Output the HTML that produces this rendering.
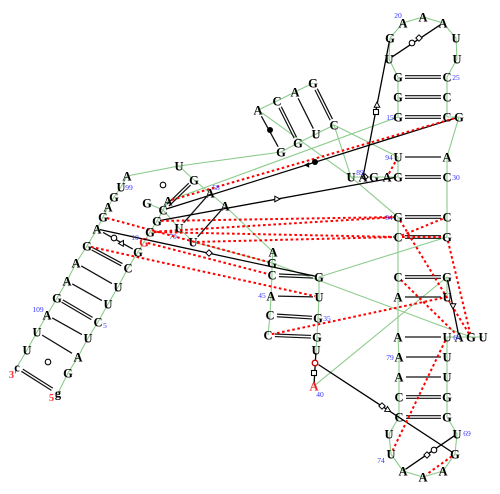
<!DOCTYPE html>
<html>
<head>
<meta charset="utf-8">
<title>RNA secondary structure</title>
<style>
html,body{margin:0;padding:0;background:#fff;width:500px;height:494px;overflow:hidden}
svg{display:block;filter:blur(0.35px)}
text{font-family:"Liberation Serif",serif}
</style>
</head>
<body>
<svg id="chart" xmlns="http://www.w3.org/2000/svg" width="500" height="494" viewBox="0 0 500 494">
<g id="backbone"></g>
<g id="pairs"></g>
<g id="tertiary"></g>
<g id="dashes"></g>
<g id="symbols"></g>
<g id="letters"></g>
<g id="labels"></g>
</svg>
<script>
const residues = [
["a1","g",58,393],["a2","G",68,373],["a3","A",78,357],["a4","U",88,338],["a5","C",98,322],["a6","U",108,304],["a7","U",118,287],["a8","C",128,268],
["a9","G",138,252],["a10","G",144,242],["a11","G",150,232],["a12","G",157,221],["a13","C",163,210],["a14","A",168,201],["a15","G",147,203],
["b1","U",179,228],["b2","U",193,242],
["c1","c",17,367],["c2","U",27,350],["c3","U",37,332],["c4","A",47,315],["c5","G",57,298],["c6","A",67,281],["c7","A",76,263],["c8","G",87,246],
["c9","A",97,229],["c10","G",103,217],["c11","A",108,207],["c12","G",114,197],["c13","U",121,187],["c14","A",127,176],["c15","U",179,166],
["d1","G",194,180],["d2","A",210,193],["d3","A",225,206],
["e1","A",258,110],["e2","C",277,101],["e3","A",295,92],["e4","G",313,83],["e5","G",281,152],["e6","G",298,143],["e7","U",316,134],["e8","C",334,125],
["f1","G",398,117],["f2","G",398,97],["f3","G",398,77],["f4","U",389,59],["f5","G",390,38],["f6","A",403,23],["f7","A",423,17],["f8","A",443,23],["f9","U",456,38],["f10","U",457,59],
["f11","C",447,77],["f12","C",447,97],["f13","C",447,117],["f14","G",459,117],["f15","A",447,157],["f16","C",447,177],["f17","C",447,217],["f18","G",447,237],
["g1","U",398,157],["g2","G",398,177],["g3","A",387,177],["g4","G",374,177],["g5","A",363,177],["g6","U",351,177],
["h1","G",398,217],["h2","C",398,237],["h3","C",398,277],["h4","A",398,297],["h5","A",398,337],["h6","A",399,357],["h7","A",399,377],["h8","C",399,397],["h9","C",399,417],
["h10","U",389,434],["h11","U",391,454],["h12","A",403,471],["h13","A",423,477],["h14","A",443,471],["h15","G",455,454],["h16","U",457,434],
["i1","G",447,417],["i2","G",447,397],["i3","U",447,377],["i4","U",447,357],["i5","U",447,337],["i6","A",459,337],["i7","G",471,337],["i8","U",483,337],
["i9","G",447,277],["i10","U",447,297],
["j1","A",273,252],["j2","G",272,263],["j3","C",272,275],["j4","A",271,296],["j5","C",270,315],["j6","C",268,335],
["k1","G",319,277],["k2","U",319,297],["k3","G",318,318],["k4","G",317,337],["k5","U",316,350],["k6","A",314,386]
];
const redResidues = ["k6","a10"];
const backbonePaths = [
["a1","a2","a3","a4","a5","a6","a7","a8","a9","a10","a11","a12","a13","a14","f1","f2","f3","f4","f5","f6","f7","f8","f9","f10","f11","f12","f13","f14","f15","f16","f17","f18","k1","k2","k3","k4","k5","k6","i9","i10"],
["c1","c2","c3","c4","c5","c6","c7","c8","c9","c10","c11","c12","c13","c14","c15","d1","d2","d3","j1","j2","j3","j4","j5","j6"],
["c15","e5","e6","e7","e8","g1","g2","g3","g4","g5","g6","h1","h2","h3","h4","h5","h6","h7","h8","h9","h10","h11","h12","h13","h14","h15","h16","i1","i2","i3","i4","i5","i6","i7","i8"],
["a15","a13","b1","b2","j2","i7"],
["e1","e2","e3","e4"],
["e1","g6","e8"]
];
const doublePairs = [["a1","c1"],["a5","c5"],["a8","c8"],["a13","d1"],["e2","e6"],["e4","e8"],["f3","f11"],["f2","f12"],["f1","f13"],["g2","f16"],["h1","f17"],["h2","f18"],["h3","i9"],["h8","i2"],["h9","i1"],["j3","k1"],["j5","k3"],["j6","k4"]];
const singlePairs = [["a3","c3"],["a4","c4"],["a6","c6"],["a7","c7"],["b1","d2"],["b2","d3"],["e1","e5"],["e3","e7"],["g1","f15"],["h4","i10"],["h5","i5"],["h6","i4"],["h7","i3"],["j4","k2"],["c9","a9"]];
const tertiaryLines = [["c9","k1"],["a13","f14"],["a12","g2"],["f5","g5"],["f4","f8"],["h16","h12"],["i9","i6"],["k5","k6"]];
const freeLineStart = ["mark1","h15"];
const dashedLines = [["c10","j2"],["c8","k2"],["a10","j3"],["a12","h1"],["a11","h1"],["a11","h2"],["b2","h2"],["a14","f14"],["g3","g1"],["h2","f17"],["h2","f18"],["h1","i7"],["f18","i7"],["h3","i6"],["j6","i10"],["i5","h11"],["h15","h13"]];
const openCircles = [[48,362],[163,185],[114,238],[412,43],[434,450]];
const filledCircles = [[270,130],[315,162]];
const redCircles = [[315,363]];
const openTriangles = [[122,243,30],[277,199,90],[377,105,0],[453,306,180],[388,410,120]];
const filledTriangles = [[307,165,-90]];
const openSquares = [[376,112],[314,373]];
const openDiamonds = [[419,38],[209,253],[365,177],[382,406],[427,455]];
const blueLabels = [["99",129,190],["109",38,312],["5",105,328],["20",398,18],["25",456,80],["15",390,120],["94",389,160],["30",456,180],["89",360,175],["84",389,220],["64",457,340],["79",390,360],["74",381,463],["69",467,436],["45",262,298],["35",327,321],["40",320,397],["10",135,240],["70",173,239],["58",216,190]];
const redLabels = [["3'",13,378],["5'",53,401]];

const NS = "http://www.w3.org/2000/svg";
const pos = {};
residues.forEach(r => { pos[r[0]] = [r[2], r[3]]; });
pos.mark1 = [316, 363];
function make(tag, parentId, name, attrs) {
  const el = document.createElementNS(NS, tag);
  
  
  Object.keys(attrs).forEach(k => el.setAttribute(k, attrs[k]));
  document.getElementById(parentId).appendChild(el);
  return el;
}
function trimmed(a, b, ta, tb) {
  const dx = b[0] - a[0], dy = b[1] - a[1], len = Math.hypot(dx, dy) || 1;
  const ux = dx / len, uy = dy / len;
  return [a[0] + ux * ta, a[1] + uy * ta, b[0] - ux * tb, b[1] - uy * tb, -uy, ux];
}
backbonePaths.forEach(path => {
  make('polyline', 'backbone', 'backbone-strand', {
    points: path.map(id => pos[id].join(',')).join(' '),
    fill: 'none', stroke: '#8ccb8c', 'stroke-width': 1.1
  });
});
doublePairs.forEach(p => {
  const t = trimmed(pos[p[0]], pos[p[1]], 7, 6);
  [-1.3, 1.3].forEach(o => {
    make('line', 'pairs', 'double-pair-line', {
      x1: t[0] + t[4] * o, y1: t[1] + t[5] * o, x2: t[2] + t[4] * o, y2: t[3] + t[5] * o,
      stroke: '#111', 'stroke-width': 1.2
    });
  });
});
singlePairs.forEach(p => {
  const t = trimmed(pos[p[0]], pos[p[1]], 7, 6);
  make('line', 'pairs', 'single-pair-line', { x1: t[0], y1: t[1], x2: t[2], y2: t[3], stroke: '#111', 'stroke-width': 1.3 });
});
tertiaryLines.concat([freeLineStart]).forEach(p => {
  const t = trimmed(pos[p[0]], pos[p[1]], 3, 3);
  make('line', 'tertiary', 'tertiary-line', { x1: t[0], y1: t[1], x2: t[2], y2: t[3], stroke: '#000', 'stroke-width': 1.3 });
});
dashedLines.forEach(p => {
  const t = trimmed(pos[p[0]], pos[p[1]], 4, 4);
  make('line', 'dashes', 'dashed-interaction', {
    x1: t[0], y1: t[1], x2: t[2], y2: t[3],
    stroke: '#f00', 'stroke-width': 2, 'stroke-dasharray': '2.6 2.6'
  });
});
openCircles.forEach(c => {
  make('circle', 'symbols', 'open-circle-symbol', { cx: c[0], cy: c[1], r: 2.8, fill: '#fff', stroke: '#000', 'stroke-width': 1.1 });
});
filledCircles.forEach(c => {
  make('circle', 'symbols', 'filled-circle-symbol', { cx: c[0], cy: c[1], r: 3, fill: '#000' });
});
redCircles.forEach(c => {
  make('circle', 'symbols', 'red-circle-symbol', { cx: c[0], cy: c[1], r: 2.8, fill: '#fff', stroke: '#c00', 'stroke-width': 1.3 });
});
openTriangles.forEach(c => {
  make('polygon', 'symbols', 'open-triangle-symbol', {
    points: '0,-3 2.8,2.2 -2.8,2.2', transform: 'translate(' + c[0] + ',' + c[1] + ') rotate(' + c[2] + ')',
    fill: '#fff', stroke: '#000', 'stroke-width': 1
  });
});
filledTriangles.forEach(c => {
  make('polygon', 'symbols', 'filled-triangle-symbol', {
    points: '0,-3 2.8,2.2 -2.8,2.2', transform: 'translate(' + c[0] + ',' + c[1] + ') rotate(' + c[2] + ')',
    fill: '#000'
  });
});
openSquares.forEach(c => {
  make('rect', 'symbols', 'open-square-symbol', { x: c[0] - 2.5, y: c[1] - 2.5, width: 5, height: 5, fill: '#fff', stroke: '#000', 'stroke-width': 1.1 });
});
openDiamonds.forEach(c => {
  make('polygon', 'symbols', 'open-diamond-symbol', {
    points: (c[0]) + ',' + (c[1] - 3.2) + ' ' + (c[0] + 3.2) + ',' + c[1] + ' ' + c[0] + ',' + (c[1] + 3.2) + ' ' + (c[0] - 3.2) + ',' + c[1],
    fill: '#fff', stroke: '#000', 'stroke-width': 1
  });
});
residues.forEach(r => {
  const t = make('text', 'letters', 'nucleotide-' + r[0], {
    x: r[2], y: r[3] + 4.4, 'text-anchor': 'middle', 'font-size': 12.5, 'font-weight': 'bold',
    fill: redResidues.includes(r[0]) ? '#e22' : '#000'
  });
  t.textContent = r[1];
});
blueLabels.forEach(l => {
  const t = make('text', 'labels', 'position-label-' + l[0], { x: l[1], y: l[2], 'text-anchor': 'middle', 'font-size': 7.5, fill: '#33f' });
  t.textContent = l[0];
});
redLabels.forEach(l => {
  const t = make('text', 'labels', 'strand-end-label', { x: l[1], y: l[2], 'text-anchor': 'middle', 'font-size': 10.5, 'font-weight': 'bold', fill: '#f33' });
  t.textContent = l[0];
});
</script>
</body>
</html>
